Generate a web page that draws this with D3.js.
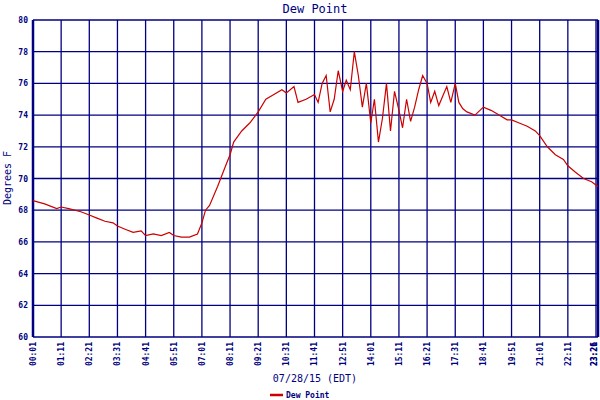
<!DOCTYPE html><html><head><meta charset="utf-8"><script src="https://cdn.jsdelivr.net/npm/d3@7"></script>
<style>body{margin:0;background:#fff}text{font-family:"DejaVu Sans Mono",monospace;fill:#000080}</style></head><body>
<script>
const times=["00:01","00:30","01:00","01:11","01:30","02:00","02:21","02:40","03:00","03:20","03:31","03:50","04:10","04:30","04:41","05:00","05:20","05:40","05:51","06:10","06:30","06:50","07:01","07:10","07:20","07:40","08:00","08:11","08:20","08:40","09:00","09:21","09:40","10:00","10:20","10:31","10:50","11:00","11:20","11:41","11:50","12:00","12:10","12:20","12:30","12:40","12:51","13:00","13:10","13:20","13:30","13:40","13:50","14:01","14:10","14:20","14:30","14:40","14:50","15:00","15:11","15:20","15:30","15:40","15:50","16:00","16:10","16:21","16:30","16:40","16:50","17:00","17:10","17:20","17:31","17:40","17:50","18:00","18:20","18:41","19:00","19:20","19:40","19:51","20:10","20:30","20:50","21:01","21:20","21:40","22:00","22:11","22:30","22:50","23:10","23:26"];
const dew=[68.6,68.4,68.1,68.2,68.1,67.9,67.7,67.5,67.3,67.2,67.0,66.8,66.6,66.7,66.4,66.5,66.4,66.6,66.4,66.3,66.3,66.5,67.2,68.0,68.3,69.5,70.8,71.5,72.3,73.0,73.5,74.2,75.0,75.3,75.6,75.4,75.8,74.8,75.0,75.3,74.8,76.0,76.5,74.2,75.0,76.8,75.5,76.2,75.6,78.0,76.5,74.5,76.0,73.5,75.0,72.3,73.8,76.0,73.0,75.5,74.3,73.2,75.0,73.6,74.5,75.6,76.5,76.0,74.8,75.5,74.6,75.2,75.8,74.8,76.0,74.8,74.4,74.2,74.0,74.5,74.3,74.0,73.7,73.7,73.5,73.3,73.0,72.7,72.0,71.5,71.2,70.8,70.4,70.0,69.8,69.5];
const tickLabels=["00:01","01:11","02:21","03:31","04:41","05:51","07:01","08:11","09:21","10:31","11:41","12:51","14:01","15:11","16:21","17:31","18:41","19:51","21:01","22:11","23:21","23:26"];
const yTicks=[60,62,64,66,68,70,72,74,76,78,80];
const m=s=>{const[a,b]=s.split(":").map(Number);return a*60+b;};
const L=33,R=598,T=20,B=337;
const svg=d3.select("body").append("svg").attr("width",600).attr("height",400);
const x=d3.scaleLinear().domain([m(times[0]),m(times[times.length-1])]).range([L,R]);
const y=d3.scaleLinear().domain([60,80]).range([B,T]);
svg.append("g").selectAll("line").data(yTicks).join("line").attr("x1",L).attr("x2",R).attr("y1",d=>y(d)).attr("y2",d=>y(d)).attr("stroke","#000080").attr("stroke-width",1.3);
svg.append("g").selectAll("line").data(tickLabels).join("line").attr("x1",d=>x(m(d))).attr("x2",d=>x(m(d))).attr("y1",T).attr("y2",B).attr("stroke","#000080").attr("stroke-width",1.3);
svg.append("line").attr("x1",L).attr("x2",L).attr("y1",T).attr("y2",B).attr("stroke","#000080").attr("stroke-width",2.5);
svg.append("line").attr("x1",R).attr("x2",R).attr("y1",T).attr("y2",B).attr("stroke","#000080").attr("stroke-width",2.5);
svg.append("g").selectAll("text").data(yTicks).join("text").attr("x",L-5).attr("y",d=>y(d)+3).attr("text-anchor","end").attr("font-size",8).attr("font-weight","bold").text(d=>d);
svg.append("g").selectAll("text").data(tickLabels).join("text").attr("transform",d=>`translate(${Math.min(x(m(d))+3,597)},342) rotate(-90)`).attr("text-anchor","end").attr("font-size",8).attr("font-weight","bold").text(d=>d);
svg.append("path").datum(times.map((t,i)=>[m(t),dew[i]])).attr("fill","none").attr("stroke","#cc0000").attr("stroke-width",1.2).attr("d",d3.line().x(d=>x(d[0])).y(d=>y(d[1])));
svg.append("text").attr("x",315).attr("y",13).attr("text-anchor","middle").attr("font-size",12).text("Dew Point");
svg.append("text").attr("transform","translate(11,178) rotate(-90)").attr("text-anchor","middle").attr("font-size",10).text("Degrees F");
svg.append("text").attr("x",315).attr("y",382).attr("text-anchor","middle").attr("font-size",10).text("07/28/15 (EDT)");
svg.append("line").attr("x1",270).attr("x2",283).attr("y1",395).attr("y2",395).attr("stroke","#cc0000").attr("stroke-width",2.5);
svg.append("text").attr("x",286).attr("y",398).attr("font-size",8).attr("font-weight","bold").text("Dew Point");
</script></body></html>
